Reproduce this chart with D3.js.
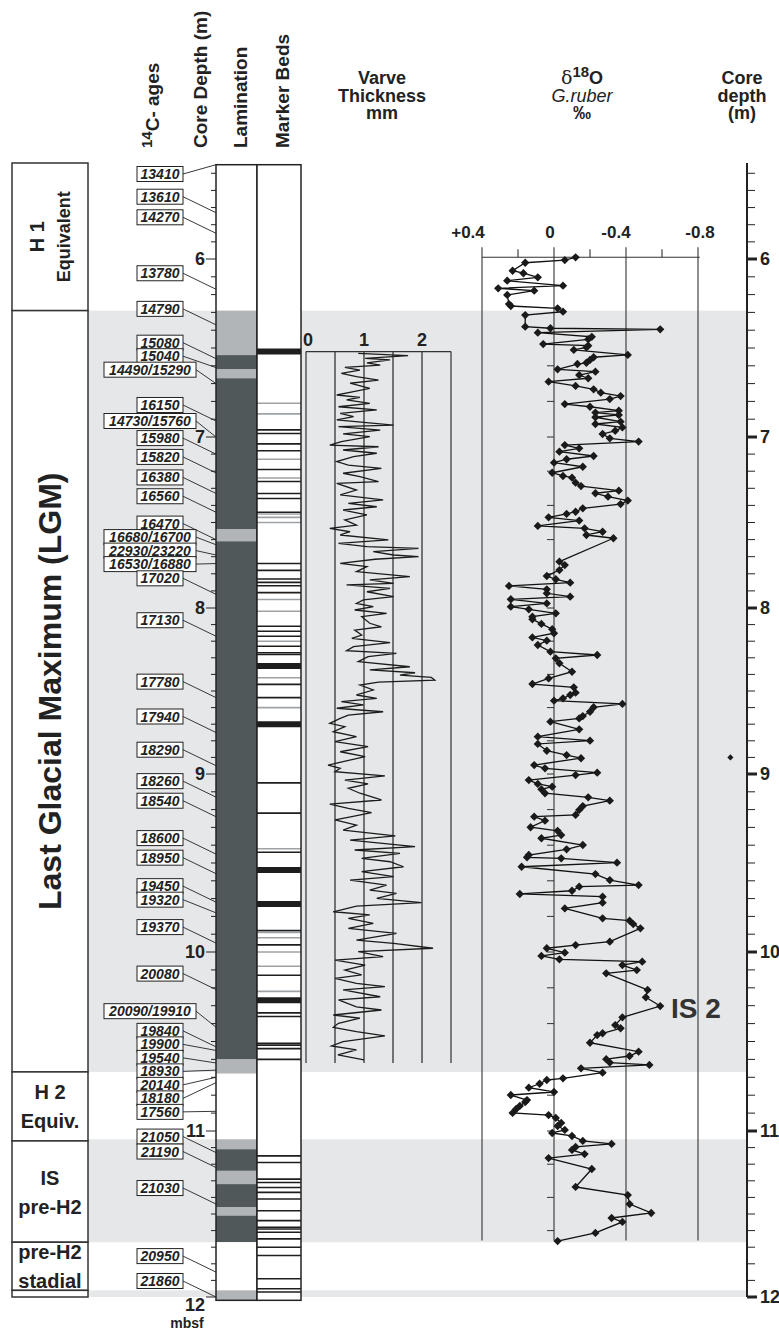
<!DOCTYPE html>
<html>

<head>
    <meta charset="utf-8">
    <script src="https://d3js.org/d3.v7.min.js"></script>
    <style>
        body { margin: 0; background: #fff; }
        text { font-family: "Liberation Sans", Arial, sans-serif; }
    </style>
</head>

<body>
    <div id="chart"></div>

    <script>
        // ---- data ----

        // stratigraphic zones (left column), depths in m
        const zoneNames = [["H 1", "Equivalent"], ["Last Glacial Maximum (LGM)"], ["H 2", "Equiv."], ["IS", "pre-H2"], ["pre-H2", "stadial"], []];
        const zoneTop = [5.44, 6.29, 10.67, 11.06, 11.67, 11.96];
        const zoneBottom = [6.29, 10.67, 11.06, 11.67, 11.96, 12.0];

        // shaded intervals
        const bandTop = [6.29, 11.05, 11.96];
        const bandBottom = [10.67, 11.67, 12.0];

        // 14C ages and the sample depth they point at
        const ageText = ["13410", "13610", "14270", "13780", "14790", "15080", "15040", "14490/15290", "16150", "14730/15760",
            "15980", "15820", "16380", "16560", "16470", "16680/16700", "22930/23220", "16530/16880", "17020", "17130",
            "17780", "17940", "18290", "18260", "18540", "18600", "18950", "19450", "19320", "19370",
            "20080", "20090/19910", "19840", "19900", "19540", "18930", "20140", "18180", "17560", "21050",
            "21190", "21030", "20950", "21860"];
        const ageDepth = [5.45, 5.73, 5.85, 6.17, 6.37, 6.56, 6.61, 6.70, 6.91, 7.00,
            7.10, 7.21, 7.33, 7.44, 7.60, 7.63, 7.69, 7.74, 7.92, 8.17,
            8.54, 8.75, 8.95, 9.13, 9.24, 9.45, 9.56, 9.72, 9.78, 9.95,
            10.21, 10.42, 10.53, 10.55, 10.62, 10.66, 10.70, 10.73, 10.89, 11.13,
            11.22, 11.44, 11.85, 12.00];

        // lamination column: intervals and type
        const lamTop = [5.45, 6.29, 6.54, 6.62, 6.67, 7.54, 7.61, 10.60, 10.68, 11.05, 11.11, 11.24, 11.32, 11.46, 11.51, 11.67, 11.96];
        const lamBottom = [6.29, 6.54, 6.62, 6.67, 7.54, 7.61, 10.60, 10.68, 11.05, 11.11, 11.24, 11.32, 11.46, 11.51, 11.67, 11.96, 12.02];
        const lamType = ["none", "light", "dark", "light", "dark", "light", "dark", "light", "none", "light", "dark", "light", "dark", "light", "dark", "none", "light"];

        // marker beds: depth and kind (thick / black / gray)
        const markerDepth = [6.52, 6.81, 6.87, 6.96, 6.98, 7.04, 7.08, 7.13, 7.19, 7.24, 7.26, 7.33, 7.36, 7.44, 7.45, 7.47, 7.50,
            7.74, 7.78, 7.83, 7.85, 7.87, 7.91, 7.95, 8.02, 8.11, 8.14, 8.17, 8.20, 8.23, 8.27, 8.28, 8.35, 8.42, 8.46, 8.54, 8.60,
            8.70, 9.05, 9.22, 9.42, 9.44, 9.54, 9.73, 9.88, 9.89, 9.92, 9.96, 10.00, 10.08, 10.13, 10.22, 10.27, 10.34, 10.36,
            10.51, 10.52, 10.54, 10.60, 11.15, 11.19, 11.29, 11.31, 11.34, 11.37, 11.41, 11.48, 11.54, 11.58, 11.59, 11.61,
            11.65, 11.70, 11.75, 11.89, 11.95, 11.97];
        const markerKind = ["thick", "gray", "gray", "black", "black", "black", "black", "gray", "black", "gray", "black", "black", "black", "black", "gray", "gray", "gray",
            "black", "black", "black", "black", "black", "black", "gray", "gray", "black", "black", "black", "gray", "black", "black", "black", "thick", "gray", "black", "black", "gray",
            "thick", "black", "black", "gray", "black", "thick", "thick", "black", "gray", "gray", "black", "gray", "gray", "black", "gray", "thick", "black", "black",
            "black", "black", "black", "black", "black", "black", "black", "black", "black", "black", "black", "black", "black", "black", "black", "black",
            "black", "black", "black", "black", "black", "black"];

        // varve thickness (mm) vs depth (m)
        const varveDepth = [6.530, 6.543, 6.558, 6.567, 6.583, 6.596, 6.609, 6.624, 6.642, 6.661, 6.680, 6.698, 6.727, 6.745, 6.764, 6.777,
            6.792, 6.811, 6.830, 6.848, 6.867, 6.886, 6.904, 6.933, 6.942, 6.961, 6.983, 6.998, 7.027, 7.047, 7.057, 7.076,
            7.095, 7.115, 7.144, 7.164, 7.183, 7.212, 7.232, 7.261, 7.271, 7.310, 7.339, 7.368, 7.388, 7.408, 7.427, 7.456,
            7.485, 7.515, 7.534, 7.554, 7.573, 7.602, 7.622, 7.641, 7.651, 7.670, 7.690, 7.700, 7.715, 7.739, 7.758, 7.787,
            7.817, 7.836, 7.856, 7.865, 7.885, 7.905, 7.934, 7.953, 7.973, 7.992, 8.012, 8.032, 8.052,
            8.092, 8.113, 8.133, 8.163, 8.183, 8.209, 8.233, 8.257, 8.273, 8.293, 8.323, 8.354, 8.373, 8.390, 8.404, 8.418,
            8.434, 8.446, 8.464, 8.494, 8.524, 8.544, 8.564, 8.584, 8.604, 8.625, 8.645, 8.665, 8.695, 8.715, 8.745, 8.775,
            8.805, 8.835, 8.866, 8.896, 8.926, 8.946, 8.966, 8.986, 9.011, 9.034, 9.056, 9.080, 9.108, 9.146, 9.169, 9.193,
            9.217, 9.240, 9.258, 9.287, 9.315, 9.348, 9.371, 9.408, 9.427, 9.446, 9.474, 9.493, 9.521, 9.549, 9.577, 9.596,
            9.624, 9.652, 9.671, 9.699, 9.723, 9.742, 9.774, 9.792, 9.811, 9.839, 9.867, 9.895, 9.933, 9.951, 9.979, 9.998,
            10.026, 10.045, 10.073, 10.101, 10.128, 10.147, 10.175, 10.194, 10.212, 10.250, 10.268, 10.306, 10.324, 10.352,
            10.370, 10.398, 10.421, 10.445, 10.469, 10.501, 10.525, 10.547, 10.575, 10.603];
        const varveMm = [0.90, 1.76, 1.02, 1.45, 1.05, 1.28, 0.67, 0.93, 0.61, 0.87, 1.25, 0.76, 1.10, 0.82, 0.53, 0.93,
            0.70, 1.10, 0.56, 1.22, 0.59, 0.82, 0.53, 1.51, 0.56, 1.28, 0.64, 1.10, 0.61, 0.41, 1.25, 0.64,
            1.22, 0.82, 0.53, 0.73, 1.30, 0.64, 0.93, 1.25, 0.53, 0.87, 0.59, 1.33, 0.73, 1.22, 0.64, 1.05,
            0.67, 0.87, 0.41, 0.76, 0.59, 1.42, 0.56, 1.05, 1.94, 1.16, 1.51, 1.94, 1.19, 0.59, 1.05, 0.87,
            1.79, 1.10, 1.51, 0.70, 1.45, 1.05, 1.51, 0.99, 0.87, 1.16, 0.84, 1.39, 0.96,
            1.10, 1.30, 0.84, 0.96, 0.79, 1.45, 0.82, 0.70, 1.56, 1.07, 0.90, 1.79, 1.10, 1.88, 1.62, 2.16,
            2.22, 1.25, 0.93, 1.16, 0.87, 1.22, 0.61, 0.99, 0.53, 1.33, 0.73, 0.59, 0.41, 0.67, 0.47, 0.87,
            0.50, 1.07, 0.59, 1.02, 0.64, 0.38, 0.59, 0.50, 1.36, 0.67, 1.07, 0.73, 0.93, 1.30, 0.41, 0.73,
            1.13, 0.79, 0.50, 0.87, 0.64, 1.54, 0.76, 1.88, 0.84, 1.62, 0.96, 1.45, 1.68, 0.96, 1.51, 0.76,
            1.39, 1.10, 1.56, 1.22, 1.99, 0.87, 0.47, 1.10, 0.73, 1.16, 0.73, 1.56, 0.87, 1.51, 2.19, 0.90,
            1.33, 0.50, 1.02, 0.67, 0.96, 0.50, 0.87, 1.36, 0.64, 1.28, 0.56, 0.87, 1.30, 0.47,
            0.93, 0.56, 0.47, 0.87, 1.36, 0.64, 0.44, 0.87, 0.55, 1.00];

        // d18O G. ruber (permil) vs depth (m)
        const isoDepth = [5.990, 6.006, 6.021, 6.066, 6.080, 6.103, 6.122, 6.150, 6.165, 6.178, 6.202, 6.253, 6.264, 6.277, 6.296, 6.315,
            6.380, 6.389, 6.395, 6.414, 6.437, 6.451, 6.478, 6.487, 6.496, 6.511, 6.539, 6.552, 6.567, 6.583, 6.590, 6.620,
            6.633, 6.652, 6.670, 6.689, 6.713, 6.732, 6.751, 6.770, 6.787, 6.815, 6.830, 6.852, 6.863, 6.876, 6.889, 6.914,
            6.927, 6.946, 6.965, 6.983, 7.008, 7.027, 7.047, 7.066, 7.086, 7.111, 7.130, 7.150, 7.174, 7.209, 7.228, 7.238,
            7.267, 7.287, 7.314, 7.329, 7.349, 7.372, 7.392, 7.417, 7.437, 7.450, 7.470, 7.489, 7.520, 7.534, 7.554, 7.573,
            7.592, 7.729, 7.749, 7.778, 7.813, 7.832, 7.852, 7.871, 7.891, 7.914, 7.934, 7.949, 7.973, 7.992, 8.008, 8.032,
            8.052, 8.068, 8.096, 8.128, 8.152, 8.177, 8.197, 8.223, 8.263, 8.283, 8.303, 8.333, 8.384, 8.424, 8.458, 8.478,
            8.510, 8.524, 8.544, 8.558, 8.578, 8.598, 8.625, 8.651, 8.665, 8.685, 8.731, 8.775, 8.799, 8.819, 8.860, 8.886,
            8.905, 8.946, 8.966, 8.992, 9.006, 9.034, 9.056, 9.071, 9.086, 9.108, 9.131, 9.150, 9.180, 9.202, 9.230, 9.240,
            9.262, 9.299, 9.319, 9.343, 9.361, 9.399, 9.423, 9.455, 9.468, 9.474, 9.498, 9.521, 9.562, 9.596, 9.624, 9.633,
            9.656, 9.674, 9.689, 9.723, 9.755, 9.811, 9.824, 9.843, 9.867, 9.942, 9.961, 9.979, 10.004, 10.022, 10.041, 10.054,
            10.073, 10.101, 10.119, 10.212, 10.253, 10.302, 10.365, 10.408, 10.426, 10.454, 10.464, 10.507, 10.557, 10.581, 10.599, 10.618,
            10.631, 10.650, 10.674, 10.706, 10.715, 10.736, 10.758, 10.782, 10.799, 10.827, 10.838, 10.860, 10.877, 10.899, 10.911, 10.927,
            10.955, 10.972, 10.994, 11.012, 11.030, 11.060, 11.078, 11.096, 11.114, 11.139, 11.163, 11.229, 11.337, 11.386, 11.440, 11.494,
            11.524, 11.548, 11.614, 11.663];
        const isoValue = [-0.12, -0.06, 0.16, 0.23, 0.17, 0.09, 0.26, -0.05, 0.31, 0.11, 0.26, 0.25, 0.24, -0.02, -0.05, 0.16,
            0.16, 0.02, -0.59, 0.09, -0.21, -0.19, 0.06, -0.19, -0.18, -0.11, -0.41, -0.22, -0.20, -0.18, -0.13, -0.02,
            -0.23, -0.14, -0.19, 0.03, -0.12, -0.22, -0.26, -0.37, -0.31, -0.06, -0.20, -0.36, -0.23, -0.36, -0.23, -0.37,
            -0.23, -0.38, -0.34, -0.27, -0.31, -0.47, -0.06, -0.14, -0.03, -0.22, -0.07, 0.00, -0.16, 0.01, -0.05, -0.10,
            -0.12, -0.15, -0.36, -0.23, -0.30, -0.41, -0.37, -0.16, -0.12, -0.07, 0.03, -0.14, 0.09, -0.17, -0.27, -0.18,
            -0.33, -0.03, -0.06, -0.03, 0.04, -0.01, -0.09, 0.25, 0.04, 0.04, -0.09, 0.24, 0.04, 0.24, 0.14, -0.01,
            0.12, 0.12, 0.07, 0.01, 0.00, 0.12, 0.04, 0.09, 0.02, -0.24, -0.01, -0.03, -0.10, 0.03, 0.12, -0.11,
            -0.12, -0.09, -0.05, 0.00, -0.38, -0.22, -0.20, -0.16, -0.14, 0.02, -0.14, 0.09, -0.20, 0.09, 0.04, -0.07,
            -0.15, 0.11, 0.05, -0.24, -0.12, 0.14, 0.09, 0.01, 0.07, 0.05, -0.19, -0.31, -0.16, -0.14, -0.12, 0.11,
            0.05, 0.13, -0.02, -0.04, 0.07, -0.16, -0.07, 0.14, 0.15, -0.04, -0.35, 0.18, -0.23, -0.31, -0.47, -0.14,
            -0.10, 0.19, -0.27, -0.27, -0.06, -0.27, -0.42, -0.44, -0.48, -0.31, -0.12, 0.04, -0.06, 0.07, -0.03, -0.49,
            -0.38, -0.46, -0.29, -0.52, -0.51, -0.59, -0.38, -0.34, -0.37, -0.27, -0.24, -0.20, -0.47, -0.42, -0.29, -0.31,
            -0.53, -0.15, -0.27, -0.05, 0.04, 0.08, 0.14, 0.00, 0.24, 0.15, 0.16, 0.19, 0.21, 0.23, 0.03, -0.01,
            -0.04, -0.02, -0.06, 0.01, -0.10, -0.16, -0.32, -0.12, -0.10, -0.17, 0.03, -0.21, -0.12, -0.41, -0.42, -0.54,
            -0.32, -0.38, -0.23, -0.02];
        // single sample plotted off-scale to the right
        const isoOutlierDepth = 8.90, isoOutlierValue = -0.98;

        // axis ticks
        const depthLabels = [6, 7, 8, 9, 10, 11, 12];
        const varveTicks = [0, 1, 2];
        const varveGrid = [0, 0.5, 1, 1.5, 2, 2.5];
        const isoTicks = [0.4, 0, -0.4, -0.8];
        const isoLabels = ["+0.4", "0", "-0.4", "-0.8"];
        const isoMinor = [0.2, -0.2, -0.6];

        // ---- layout ----
        const width = 779, height = 1334;
        const bandFill = "#e6e7e8", lamLight = "#b1b5b8", lamDark = "#50585a";

        const svg = d3.select("#chart")
            .append("svg")
            .attr("width", width)
            .attr("height", height);

        // core depth -> y. the printed depth axis is slightly uneven, so anchor it at each metre
        const y = d3.scaleLinear()
            .domain([5.44, 6, 7, 8, 9, 10, 11, 12])
            .range([163, 259, 437, 608, 774, 952, 1131, 1297]);

        const xVarve = d3.scaleLinear().domain([0, 2.5]).range([306, 451]);
        const xIso = d3.scaleLinear().domain([0.4, -0.8]).range([482, 698]);

        // shaded bands
        svg.selectAll(".band")
            .data(d3.range(bandTop.length))
            .join("rect")
            .attr("x", 88).attr("width", 747 - 88)
            .attr("y", i => y(bandTop[i]))
            .attr("height", i => y(bandBottom[i]) - y(bandTop[i]))
            .attr("fill", bandFill);

        // zone column
        const zone = svg.append("g");
        zoneTop.forEach((t, i) => {
            const y0 = y(t), y1 = y(zoneBottom[i]);
            zone.append("rect")
                .attr("x", 12).attr("y", y0).attr("width", 76).attr("height", y1 - y0)
                .attr("fill", "#fff").attr("stroke", "#333").attr("stroke-width", 1.5);
            const names = zoneNames[i];
            const cy = (y0 + y1) / 2;
            if (names.length === 0) return;
            if (y1 - y0 > 120) {
                // tall zones get rotated labels
                const big = names.length === 1;
                const g = zone.append("g").attr("transform", `translate(50,${cy}) rotate(-90)`);
                names.forEach((n, k) => {
                    g.append("text")
                        .attr("x", 0)
                        .attr("y", big ? 11 : (k === 0 ? -6 : 20))
                        .attr("text-anchor", "middle")
                        .attr("font-weight", "bold")
                        .attr("font-size", big ? 32 : (k === 0 ? 20 : 18))
                        .attr("fill", "#222")
                        .text(n);
                });
            } else {
                names.forEach((n, k) => {
                    zone.append("text")
                        .attr("x", 50)
                        .attr("y", cy + (k === 0 ? -14 : 15) + 7)
                        .attr("text-anchor", "middle")
                        .attr("font-weight", "bold")
                        .attr("font-size", 20)
                        .attr("fill", "#222")
                        .text(n);
                });
            }
        });

        // lamination column
        svg.selectAll(".lam")
            .data(d3.range(lamTop.length))
            .join("rect")
            .attr("x", 216).attr("width", 41)
            .attr("y", i => y(lamTop[i]))
            .attr("height", i => y(lamBottom[i]) - y(lamTop[i]))
            .attr("fill", i => lamType[i] === "dark" ? lamDark : lamType[i] === "light" ? lamLight : "#fff");
        svg.append("rect")
            .attr("x", 216).attr("y", y(5.45)).attr("width", 41).attr("height", y(12.02) - y(5.45))
            .attr("fill", "none").attr("stroke", "#222").attr("stroke-width", 1.5);

        // marker beds column
        svg.append("rect")
            .attr("x", 257).attr("y", y(5.45)).attr("width", 44).attr("height", y(12.02) - y(5.45))
            .attr("fill", "#fff");
        svg.selectAll(".mk")
            .data(d3.range(markerDepth.length))
            .join("line")
            .attr("x1", 257).attr("x2", 301)
            .attr("y1", i => y(markerDepth[i])).attr("y2", i => y(markerDepth[i]))
            .attr("stroke", i => markerKind[i] === "gray" ? "#9da2a6" : "#1e1e1e")
            .attr("stroke-width", i => markerKind[i] === "thick" ? 6 : 1.6);
        svg.append("rect")
            .attr("x", 257).attr("y", y(5.45)).attr("width", 44).attr("height", y(12.02) - y(5.45))
            .attr("fill", "none").attr("stroke", "#222").attr("stroke-width", 1.5);

        // core depth ticks on the left of the lamination column
        const tickDepths = d3.range(55, 121).map(i => i / 10);
        svg.selectAll(".ltick")
            .data(tickDepths)
            .join("line")
            .attr("x1", d => Number.isInteger(d) ? 206 : 211).attr("x2", 216)
            .attr("y1", d => y(d)).attr("y2", d => y(d))
            .attr("stroke", "#222").attr("stroke-width", 1);
        svg.selectAll(".llab")
            .data(depthLabels)
            .join("text")
            .attr("x", 205)
            .attr("y", d => d === 12 ? y(d) + 14 : y(d) + 6)
            .attr("text-anchor", "end")
            .attr("font-weight", "bold").attr("font-size", 18).attr("fill", "#222")
            .text(d => d);
        svg.append("text")
            .attr("x", 187).attr("y", 1328)
            .attr("text-anchor", "middle")
            .attr("font-weight", "bold").attr("font-size", 14).attr("fill", "#222")
            .text("mbsf");

        // 14C age labels: each box sits a little above its sample, pushed down when crowded
        const target = ageDepth.map(d => y(d));
        const pos = [];
        target.forEach((t, i) => {
            const want = Math.max(t - 16, 174);
            pos.push(i === 0 ? want : Math.max(want, pos[i - 1] + 13.5));
        });
        const ages = svg.append("g");
        ageText.forEach((t, i) => {
            const wide = t.length > 5;
            const x0 = wide ? 104 : 137, x1 = wide ? 196 : 183;
            ages.append("line")
                .attr("x1", x1).attr("y1", pos[i]).attr("x2", 216).attr("y2", target[i])
                .attr("stroke", "#222").attr("stroke-width", 0.9);
            ages.append("rect")
                .attr("x", x0).attr("y", pos[i] - 7.5).attr("width", x1 - x0).attr("height", 15)
                .attr("fill", "#fff").attr("stroke", "#222").attr("stroke-width", 1);
            ages.append("text")
                .attr("x", (x0 + x1) / 2).attr("y", pos[i] + 5)
                .attr("text-anchor", "middle")
                .attr("font-weight", "bold").attr("font-style", "italic").attr("font-size", 14)
                .attr("fill", "#222")
                .text(t);
        });

        // varve thickness panel
        const vTop = y(6.52), vBot = y(10.62);
        svg.selectAll(".vgrid")
            .data(varveGrid)
            .join("line")
            .attr("x1", d => xVarve(d)).attr("x2", d => xVarve(d))
            .attr("y1", vTop).attr("y2", vBot)
            .attr("stroke", d => d === 0 || d === 2.5 ? "#333" : "#555")
            .attr("stroke-width", d => d === 0 || d === 2.5 ? 1.2 : 1.6);
        svg.append("line")
            .attr("x1", xVarve(0)).attr("x2", xVarve(2.5)).attr("y1", vTop).attr("y2", vTop)
            .attr("stroke", "#333").attr("stroke-width", 1.2);
        svg.selectAll(".vlab")
            .data(varveTicks)
            .join("text")
            .attr("x", d => xVarve(d) + (d === 0 ? 2 : 0)).attr("y", vTop - 6)
            .attr("text-anchor", "middle")
            .attr("font-weight", "bold").attr("font-size", 18).attr("fill", "#222")
            .text(d => d);
        svg.append("path")
            .datum(d3.range(varveDepth.length))
            .attr("fill", "none")
            .attr("stroke", "#1c1c1c")
            .attr("stroke-width", 1.3)
            .attr("d", d3.line()
                .x(i => xVarve(varveMm[i]))
                .y(i => y(varveDepth[i])));

        // d18O panel
        const iTop = y(5.99), iBot = y(11.66);
        svg.selectAll(".igrid")
            .data(isoTicks)
            .join("line")
            .attr("x1", d => xIso(d)).attr("x2", d => xIso(d))
            .attr("y1", iTop - 10).attr("y2", iBot)
            .attr("stroke", "#333").attr("stroke-width", 1.1);
        svg.selectAll(".iminor")
            .data(isoMinor)
            .join("line")
            .attr("x1", d => xIso(d)).attr("x2", d => xIso(d))
            .attr("y1", iTop - 8).attr("y2", iTop)
            .attr("stroke", "#333").attr("stroke-width", 1.1);
        svg.append("line")
            .attr("x1", xIso(0.4)).attr("x2", xIso(-0.81)).attr("y1", iTop).attr("y2", iTop)
            .attr("stroke", "#333").attr("stroke-width", 1.1);
        // labels sit slightly off their ticks in the figure
        const isoLabelShift = [-14, -4, -10, 2];
        svg.selectAll(".ilab")
            .data(isoTicks)
            .join("text")
            .attr("x", (d, i) => xIso(d) + isoLabelShift[i]).attr("y", iTop - 19)
            .attr("text-anchor", "middle")
            .attr("font-weight", "bold").attr("font-size", 17).attr("fill", "#222")
            .text((d, i) => isoLabels[i]);
        // small depth ticks along the zero line
        svg.selectAll(".ztick")
            .data(d3.range(33, 59).map(i => i / 5))
            .join("line")
            .attr("x1", xIso(0) - 7).attr("x2", xIso(0))
            .attr("y1", d => y(d)).attr("y2", d => y(d))
            .attr("stroke", "#333").attr("stroke-width", 1);

        svg.append("path")
            .datum(d3.range(isoDepth.length))
            .attr("fill", "none")
            .attr("stroke", "#111")
            .attr("stroke-width", 1.3)
            .attr("d", d3.line()
                .x(i => xIso(isoValue[i]))
                .y(i => y(isoDepth[i])));
        const diamond = d3.symbol().type(d3.symbolDiamond2).size(44);
        svg.selectAll(".pt")
            .data(d3.range(isoDepth.length))
            .join("path")
            .attr("transform", i => `translate(${xIso(isoValue[i])},${y(isoDepth[i])})`)
            .attr("d", diamond)
            .attr("fill", "#1a1a1a");
        svg.append("path")
            .attr("transform", `translate(${xIso(isoOutlierValue)},${y(isoOutlierDepth)})`)
            .attr("d", d3.symbol().type(d3.symbolDiamond2).size(24))
            .attr("fill", "#1a1a1a");

        svg.append("text")
            .attr("x", 671).attr("y", 1018)
            .attr("font-weight", "bold").attr("font-size", 28).attr("fill", "#333")
            .text("IS 2");

        // right depth axis
        svg.append("line")
            .attr("x1", 747).attr("x2", 747).attr("y1", y(5.44)).attr("y2", y(12))
            .attr("stroke", "#222").attr("stroke-width", 2);
        svg.selectAll(".rtick")
            .data(tickDepths)
            .join("line")
            .attr("x1", 747).attr("x2", d => Number.isInteger(d) ? 757 : 755)
            .attr("y1", d => y(d)).attr("y2", d => y(d))
            .attr("stroke", "#222").attr("stroke-width", d => Number.isInteger(d) ? 3 : 1);
        svg.selectAll(".rlab")
            .data(depthLabels)
            .join("text")
            .attr("x", 760).attr("y", d => y(d) + 6)
            .attr("font-weight", "bold").attr("font-size", 18).attr("fill", "#222")
            .text(d => d);

        // column headers (rotated), all ending just above the columns
        const vHeadX = [152, 200, 240, 282];
        const hText = ["Core Depth (m)", "Lamination", "Marker Beds"];
        vHeadX.forEach((hx, i) => {
            const t = svg.append("text")
                .attr("transform", `translate(${hx + 7},148) rotate(-90)`)
                .attr("font-weight", "bold").attr("font-size", 19).attr("fill", "#222");
            if (i === 0) {
                t.append("tspan").attr("font-size", 15).attr("dy", -7).text("14");
                t.append("tspan").attr("dy", 7).text("C- ages");
            } else {
                t.text(hText[i - 1]);
            }
        });

        const headLines = (x, lines) => {
            lines.forEach((l, k) => {
                svg.append("text")
                    .attr("x", x).attr("y", 84 + k * 17.5)
                    .attr("text-anchor", "middle")
                    .attr("font-weight", "bold").attr("font-size", 18).attr("fill", "#222")
                    .text(l);
            });
        };
        headLines(382, ["Varve", "Thickness", "mm"]);
        headLines(742, ["Core", "depth", "(m)"]);

        const d18 = svg.append("text")
            .attr("x", 582).attr("y", 84)
            .attr("text-anchor", "middle").attr("fill", "#222");
        d18.append("tspan").attr("font-family", "DejaVu Serif, serif").attr("font-size", 19).text("δ");
        d18.append("tspan").attr("font-weight", "bold").attr("font-size", 15).attr("dy", -7).text("18");
        d18.append("tspan").attr("font-weight", "bold").attr("font-size", 18).attr("dy", 7).text("O");
        svg.append("text")
            .attr("x", 582).attr("y", 101.5)
            .attr("text-anchor", "middle")
            .attr("font-style", "italic").attr("font-size", 18).attr("fill", "#222")
            .text("G.ruber");
        svg.append("text")
            .attr("x", 582).attr("y", 119)
            .attr("text-anchor", "middle")
            .attr("font-weight", "bold").attr("font-size", 18).attr("fill", "#222")
            .text("‰");
    </script>

</body>

</html>
